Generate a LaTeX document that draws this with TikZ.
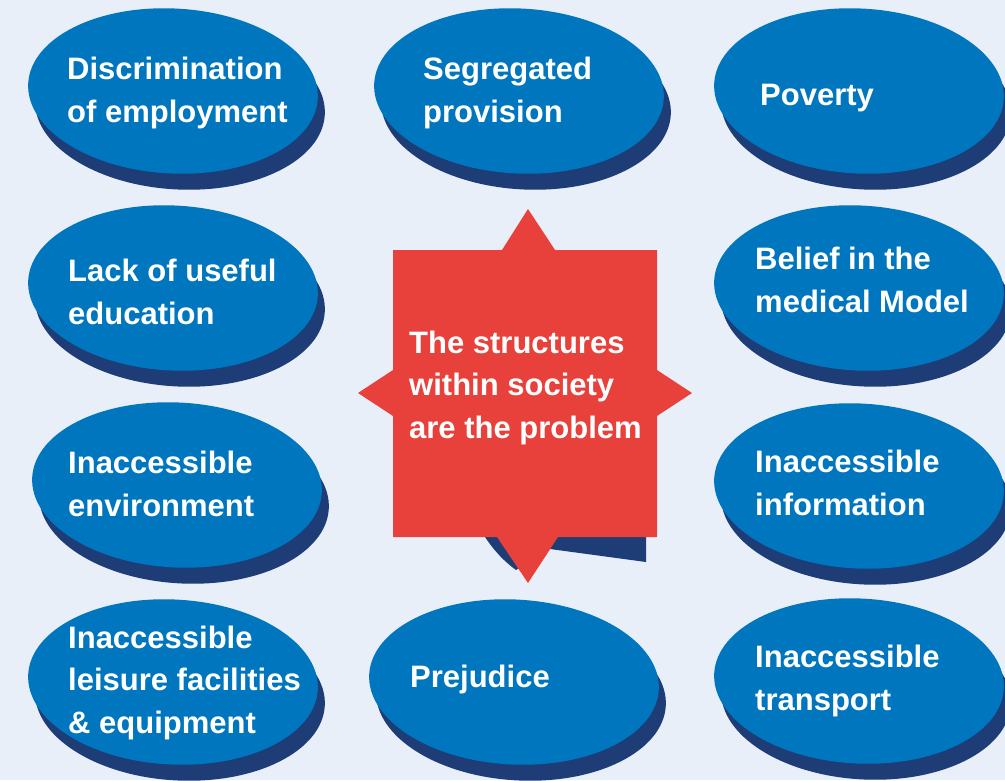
\documentclass[tikz,border=0pt]{standalone}
\usepackage{fontspec}
\setmainfont{Liberation Sans}
\usetikzlibrary{shapes.geometric}
\definecolor{bgC}{HTML}{E8EFF9}
\definecolor{blueC}{HTML}{0076BF}
\definecolor{navyC}{HTML}{1E3C76}
\definecolor{redC}{HTML}{E8403A}
\tikzset{
  blob/.style={ellipse, fill=blueC, minimum width=290pt, minimum height=165pt, inner sep=0pt, rotate=-3},
  blobshadow/.style={blob, fill=navyC},
  lbl/.style={text=white, font=\bfseries\fontsize{31}{42.5}\selectfont, align=left, anchor=base west, inner sep=0pt}
}
\begin{document}
\begin{tikzpicture}[x=1pt,y=-1pt]
\useasboundingbox (0,0) rectangle (1005,780);
\fill[bgC] (0,0) rectangle (1005,780);
% shadows
\foreach \cx/\cy in {173/91,519/91,859/91,173/288,859/288,177/485,859/486,173/682,514/682,859/681}{
  \node[blobshadow] at (\cx+7,\cy+16) {};
}
% ellipses
\node[blob] (e1) at (173,91) {};
\node[blob] (e2) at (519,91) {};
\node[blob] (e3) at (859,91) {};
\node[blob] (e4) at (173,288) {};
\node[blob] (e5) at (859,288) {};
\node[blob] (e6) at (177,485) {};
\node[blob] (e7) at (859,486) {};
\node[blob] (e8) at (173,682) {};
\node[blob] (e9) at (514,682) {};
\node[blob] (e10) at (859,681) {};
% labels (anchored at the baseline of the last line)
\node[lbl] (t1) at (67,122) {Discrimination\\of employment};
\node[lbl] (t2) at (423,122) {Segregated\\provision};
\node[lbl] (t3) at (760,105) {Poverty};
\node[lbl] (t4) at (68,324) {Lack of useful\\education};
\node[lbl] (t5) at (755,312) {Belief in the\\medical Model};
\node[lbl] (t6) at (68,516) {Inaccessible\\environment};
\node[lbl] (t7) at (755,515) {Inaccessible\\information};
\node[lbl] (t8) at (68,733) {Inaccessible\\leisure facilities\\\& equipment};
\node[lbl] (t9) at (410,687) {Prejudice};
\node[lbl] (t10) at (755,710) {Inaccessible\\transport};
% central star shadow
\fill[navyC] (485,537) .. controls (495,552) and (505,562) .. (516,570) -- (550,549) -- (646,562) -- (646,537) -- cycle;
% central star
\fill[redC] (393,250) -- (502,250) -- (528,209) -- (555,250) -- (657,250) -- (657,370) -- (692,393) -- (657,416) -- (657,537) -- (558,537) -- (528,583) -- (497,537) -- (393,537) -- (393,416) -- (358,393) -- (393,370) -- cycle;
\node[lbl] (c) at (409,438) {The structures\\within society\\are the problem};
\end{tikzpicture}
\end{document}
